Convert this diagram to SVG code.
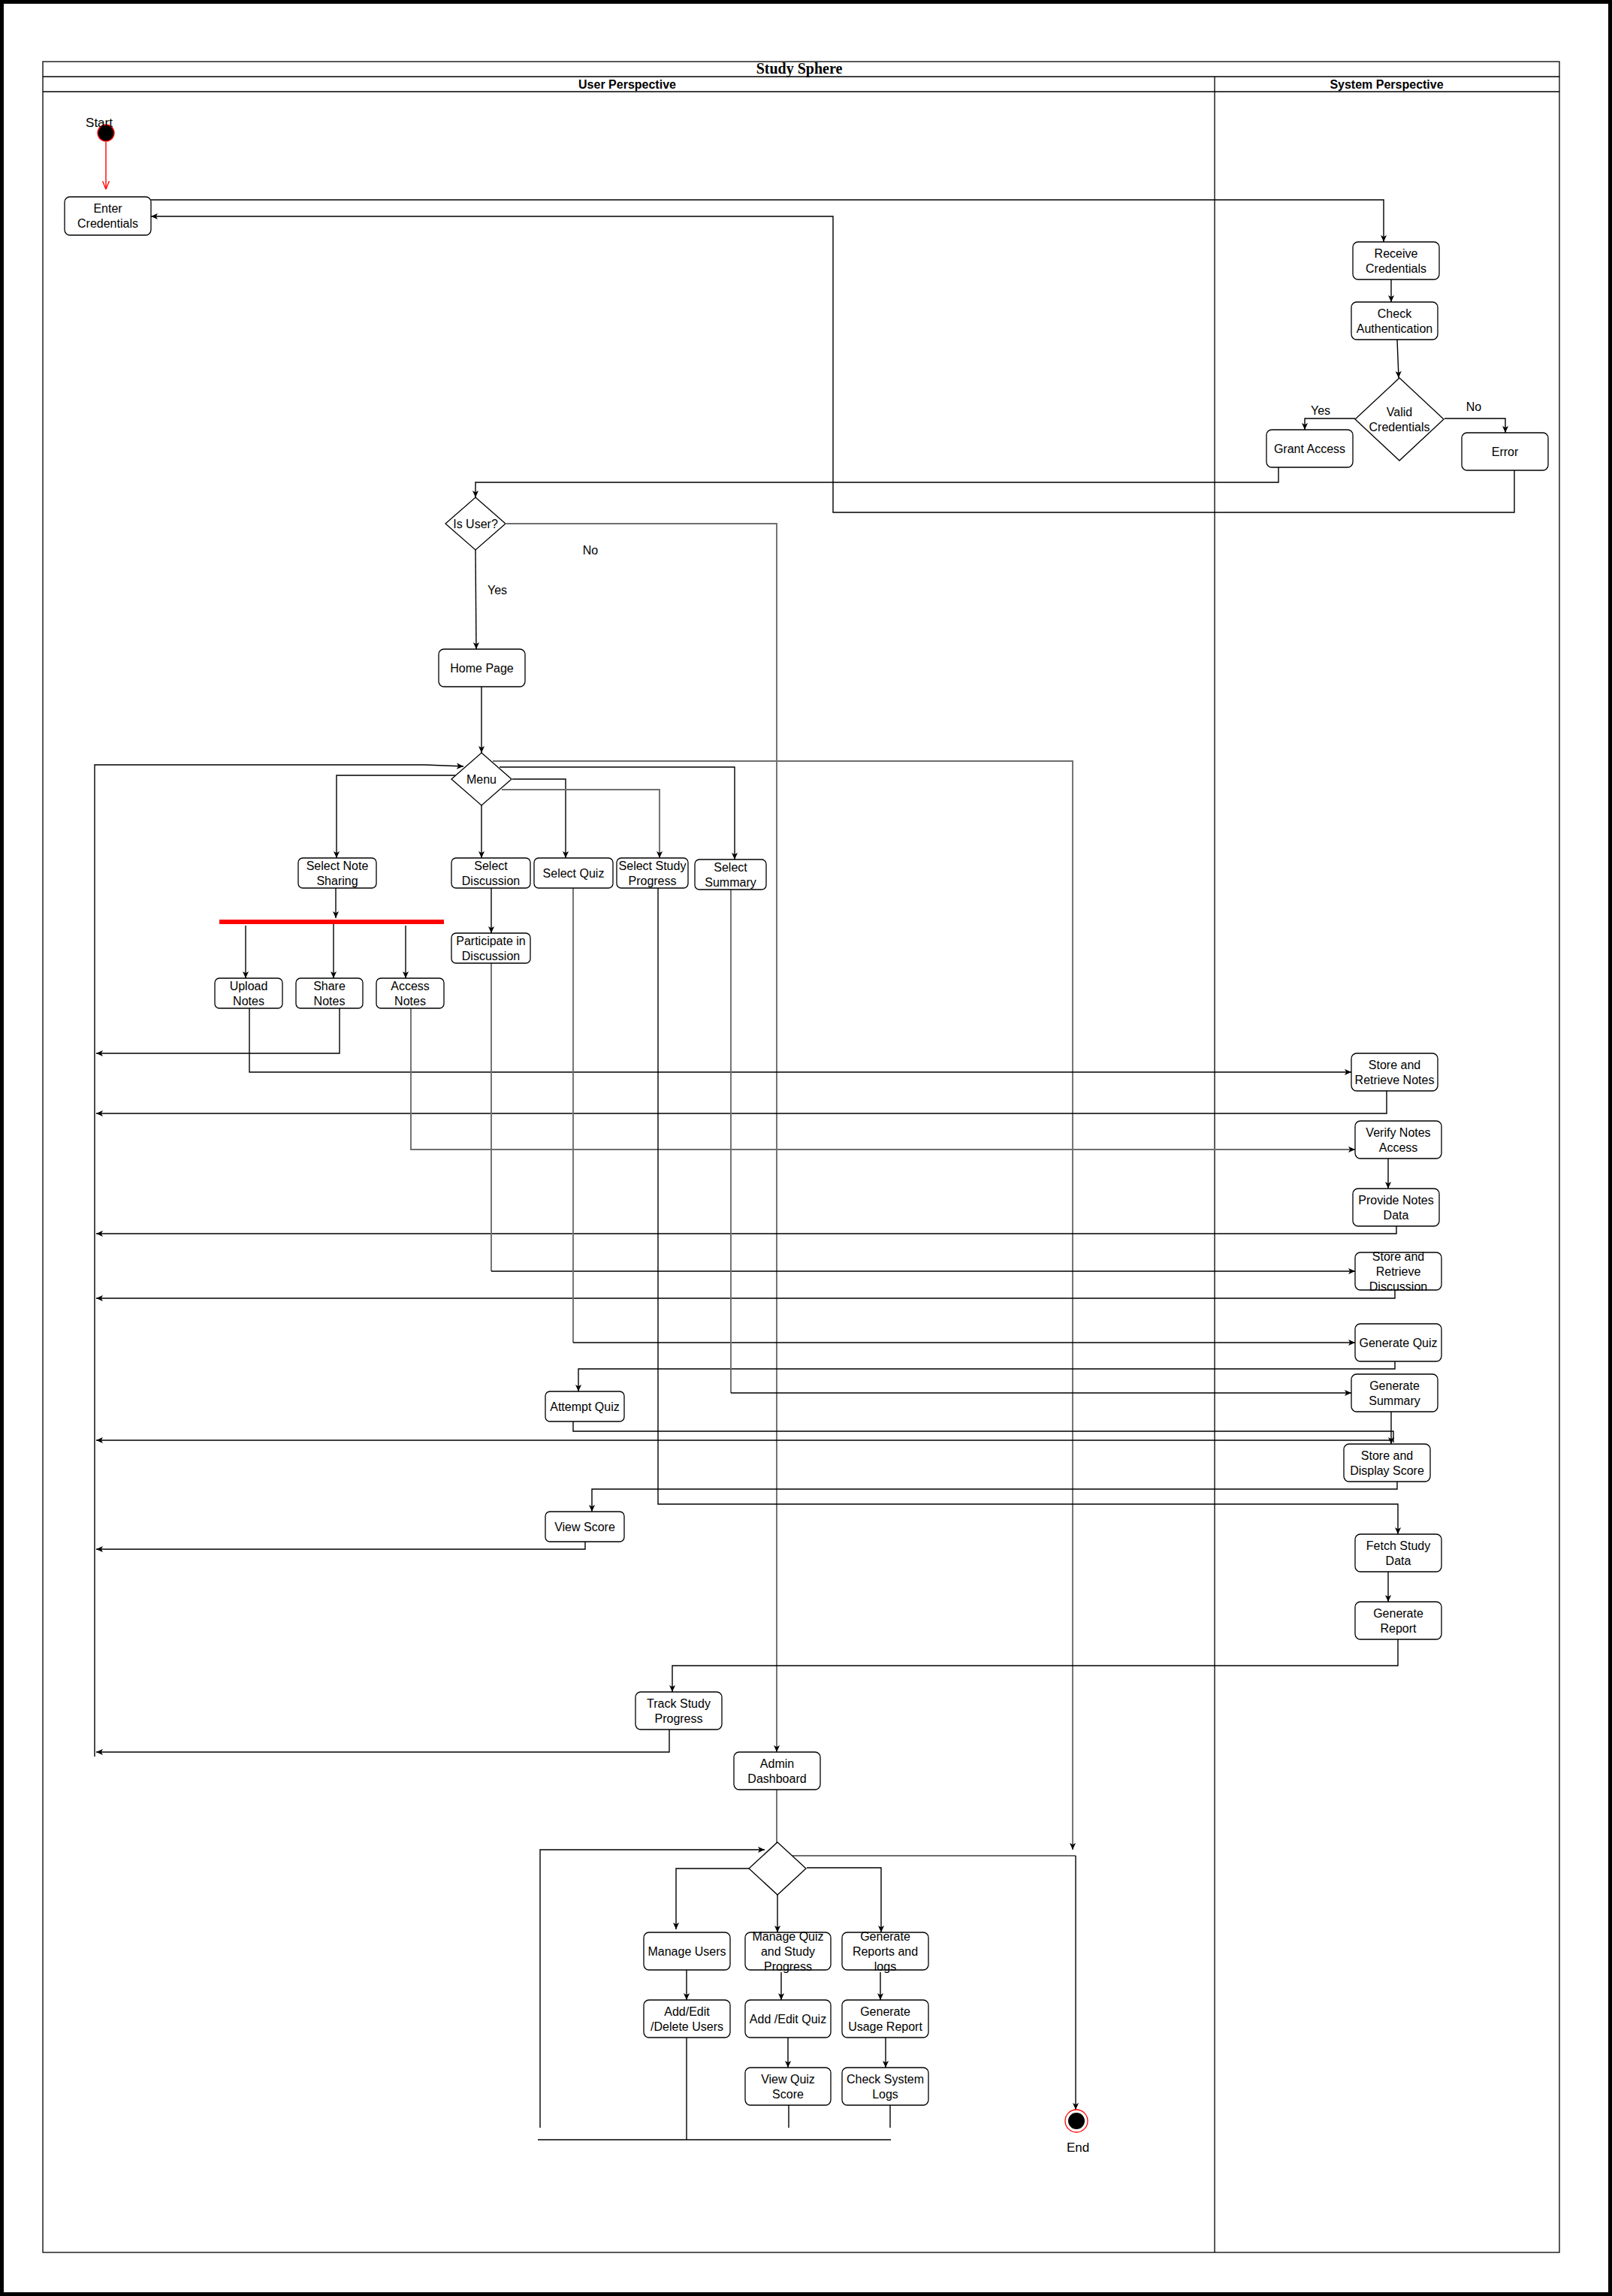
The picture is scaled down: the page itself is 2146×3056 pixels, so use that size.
<svg xmlns="http://www.w3.org/2000/svg" width="2146" height="3056" viewBox="0 0 2146 3056">
<style>
.bg{fill:#fff}
.border{fill:none;stroke:#000;stroke-width:5}
.pool{fill:none;stroke:#000;stroke-width:1.3}
.box{fill:#fff;stroke:#000;stroke-width:1.3}
.t{font-family:"Liberation Sans",Arial,sans-serif;font-size:16px;fill:#000;text-anchor:middle}
.h{font-family:"Liberation Sans",Arial,sans-serif;font-size:16px;font-weight:bold;fill:#000;text-anchor:middle}
.title{font-family:"Liberation Serif","Times New Roman",serif;font-size:20px;font-weight:bold;fill:#000;text-anchor:middle}
.lbl{font-family:"Liberation Sans",Arial,sans-serif;font-size:17px;fill:#000;text-anchor:middle}
.c{fill:none;stroke:#000;stroke-width:1.4}
.g{fill:none;stroke:#6e6e6e;stroke-width:1.9}
.ca{marker-end:url(#arr)}
</style>
<defs>
<marker id="arr" viewBox="0 0 10 10" refX="10" refY="5" markerWidth="9" markerHeight="9" markerUnits="userSpaceOnUse" orient="auto">
<path d="M0,0.5 L10,5 L0,9.5 L2.5,5 z" fill="#000"/>
</marker>
<marker id="arrRed" viewBox="0 0 10 10" refX="10" refY="5" markerWidth="11" markerHeight="11" markerUnits="userSpaceOnUse" orient="auto">
<path d="M0,1 L10,5 L0,9" fill="none" stroke="#ff0000" stroke-width="1.2"/>
</marker>
</defs>
<rect class="bg" x="0" y="0" width="2146" height="3056"/>
<rect class="border" x="2.5" y="2.5" width="2141" height="3051"/>

<g id="pool">
<rect class="pool" x="57" y="82" width="2019" height="2916"/>
<line class="pool" x1="57" y1="102" x2="2076" y2="102"/>
<line class="pool" x1="57" y1="122" x2="2076" y2="122"/>
<line class="pool" x1="1617" y1="102" x2="1617" y2="2998"/>
<text class="title" x="1064" y="98">Study Sphere</text>
<text class="h" x="835" y="118">User Perspective</text>
<text class="h" x="1846" y="118">System Perspective</text>
</g>

<g id="connectors">
<polyline class="c" points="141,189 141,252" style="stroke:#ff0000;marker-end:url(#arrRed)"/>
<polyline class="c ca" points="201,266 1842,266 1842,322"/>
<polyline class="c ca" points="2016,626 2016,682 1109,682 1109,288 201,288"/>
<polyline class="c ca" points="1852,372 1852,402"/>
<polyline class="c ca" points="1860,452 1862,503"/>
<polyline class="c ca" points="1804,557 1737,557 1737,572"/>
<polyline class="c ca" points="1923,557 2004,557 2004,576"/>
<polyline class="c ca" points="1702,622 1702,642 633,642 633,662"/>
<polyline class="g ca" points="674,697 1034,697 1034,2332"/>
<polyline class="c ca" points="633,732 634,864"/>
<polyline class="c ca" points="641,914 641,1002"/>
<polyline class="c ca" points="606,1032 448,1032 448,1142"/>
<polyline class="c ca" points="641,1072 641,1142"/>
<polyline class="c ca" points="682,1037 753,1037 753,1142"/>
<polyline class="g ca" points="668,1051 878,1051 878,1142"/>
<polyline class="c ca" points="665,1021 978,1021 978,1144"/>
<polyline class="g ca" points="656,1013 1428,1013 1428,2462"/>
<polyline class="c ca" points="126,2338 126,1018 566,1018 617,1020"/>
<polyline class="c ca" points="447,1182 447,1222"/>
<polyline class="c ca" points="327,1232 327,1302"/>
<polyline class="c ca" points="444,1230 444,1302"/>
<polyline class="c ca" points="540,1232 540,1302"/>
<polyline class="c ca" points="654,1182 654,1242"/>
<polyline class="c ca" points="452,1342 452,1402 128,1402"/>
<polyline class="c ca" points="332,1342 332,1427 1799,1427"/>
<polyline class="c ca" points="1846,1452 1846,1482 128,1482"/>
<polyline class="g ca" points="547,1342 547,1530 1804,1530"/>
<polyline class="c ca" points="1848,1542 1848,1582"/>
<polyline class="c ca" points="1859,1632 1859,1642 128,1642"/>
<polyline class="g" points="654,1282 654,1692"/>
<polyline class="c ca" points="654,1692 1804,1692"/>
<polyline class="c ca" points="1857,1717 1857,1728 128,1728"/>
<polyline class="g" points="763,1182 763,1787"/>
<polyline class="c ca" points="763,1787 1804,1787"/>
<polyline class="c ca" points="1857,1812 1857,1822 770,1822 770,1852"/>
<polyline class="g" points="973,1184 973,1854"/>
<polyline class="c ca" points="973,1854 1799,1854"/>
<polyline class="c ca" points="1852,1879 1852,1922"/>
<polyline class="c" points="763,1892 763,1905 1855,1905 1855,1920"/>
<polyline class="c ca" points="1852,1917 128,1917"/>
<polyline class="c ca" points="1860,1972 1860,1982 788,1982 788,2012"/>
<polyline class="c ca" points="779,2052 779,2062 128,2062"/>
<polyline class="c ca" points="876,1182 876,2002 1861,2002 1861,2042"/>
<polyline class="c ca" points="1848,2092 1848,2132"/>
<polyline class="c ca" points="1861,2182 1861,2217 895,2217 895,2252"/>
<polyline class="c ca" points="891,2302 891,2332 128,2332"/>
<polyline class="g ca" points="1034,2382 1034,2467"/>
<polyline class="c ca" points="719,2832 719,2462 1018,2462"/>
<polyline class="c ca" points="997,2487 900,2487 900,2568"/>
<polyline class="c ca" points="1035,2522 1035,2572"/>
<polyline class="c ca" points="1074,2486 1173,2486 1173,2572"/>
<polyline class="g" points="1054,2470 1432,2470"/>
<polyline class="c ca" points="1432,2470 1432,2808"/>
<polyline class="c ca" points="914,2622 914,2662"/>
<polyline class="c ca" points="1040,2625 1040,2662"/>
<polyline class="c ca" points="1049,2712 1049,2752"/>
<polyline class="c ca" points="1172,2625 1172,2662"/>
<polyline class="c ca" points="1179,2712 1179,2752"/>
<polyline class="c" points="914,2712 914,2848"/>
<polyline class="c" points="1050,2802 1050,2832"/>
<polyline class="c" points="1185,2802 1185,2832"/>
<polyline class="c" points="716,2848 1186,2848"/>
</g>

<g id="start"><circle cx="141" cy="177" r="11" fill="#000" stroke="#ff0000" stroke-width="1.3"/><text class="lbl" x="132" y="169">Start</text></g>
<g id="end"><circle cx="1433" cy="2823" r="15" fill="#fff" stroke="#ff0000" stroke-width="1.3"/><circle cx="1433" cy="2823" r="11" fill="#000"/><text class="lbl" x="1435" y="2864">End</text></g>

<g id="enterCredentials"><rect class="box" x="86" y="262" width="115" height="51" rx="7"/><text class="t" x="143.5" y="283">Enter</text><text class="t" x="143.5" y="303">Credentials</text></g>
<g id="receiveCredentials"><rect class="box" x="1801" y="322" width="115" height="50" rx="7"/><text class="t" x="1858.5" y="343">Receive</text><text class="t" x="1858.5" y="363">Credentials</text></g>
<g id="checkAuthentication"><rect class="box" x="1799" y="402" width="115" height="50" rx="7"/><text class="t" x="1856.5" y="423">Check</text><text class="t" x="1856.5" y="443">Authentication</text></g>
<g id="validCredentials"><polygon class="box" points="1863,503 1922,558 1863,613 1804,558"/><text class="t" x="1863" y="554">Valid</text><text class="t" x="1863" y="574">Credentials</text></g>
<g id="grantAccess"><rect class="box" x="1686" y="572" width="115" height="50" rx="7"/><text class="t" x="1743.5" y="603">Grant Access</text></g>
<g id="error"><rect class="box" x="1946" y="576" width="115" height="50" rx="7"/><text class="t" x="2003.5" y="607">Error</text></g>
<g id="labels">
<text class="t" x="1758" y="552">Yes</text>
<text class="t" x="1962" y="547">No</text>
<text class="t" x="786" y="738">No</text>
<text class="t" x="662" y="791">Yes</text>
</g>
<g id="isUser"><polygon class="box" points="633,662 673,697 633,732 593,697"/><text class="t" x="633" y="703">Is User?</text></g>
<g id="homePage"><rect class="box" x="584" y="864" width="115" height="50" rx="7"/><text class="t" x="641.5" y="895">Home Page</text></g>
<g id="menu"><polygon class="box" points="641,1002 681,1037 641,1072 601,1037"/><text class="t" x="641" y="1043">Menu</text></g>

<g id="selectNoteSharing"><rect class="box" x="397" y="1142" width="104" height="40" rx="6"/><text class="t" x="449" y="1158">Select Note</text><text class="t" x="449" y="1178">Sharing</text></g>
<g id="selectDiscussion"><rect class="box" x="601" y="1142" width="105" height="40" rx="6"/><text class="t" x="653.5" y="1158">Select</text><text class="t" x="653.5" y="1178">Discussion</text></g>
<g id="selectQuiz"><rect class="box" x="711" y="1142" width="105" height="40" rx="6"/><text class="t" x="763.5" y="1168">Select Quiz</text></g>
<g id="selectStudyProgress"><rect class="box" x="821" y="1142" width="95" height="40" rx="6"/><text class="t" x="868.5" y="1158">Select Study</text><text class="t" x="868.5" y="1178">Progress</text></g>
<g id="selectSummary"><rect class="box" x="925" y="1144" width="95" height="40" rx="6"/><text class="t" x="972.5" y="1160">Select</text><text class="t" x="972.5" y="1180">Summary</text></g>
<g id="forkBar"><rect x="292" y="1224" width="299" height="6" fill="#ff0000"/></g>
<g id="uploadNotes"><rect class="box" x="286" y="1302" width="90" height="40" rx="6"/><text class="t" x="331" y="1318">Upload</text><text class="t" x="331" y="1338">Notes</text></g>
<g id="shareNotes"><rect class="box" x="394" y="1302" width="89" height="40" rx="6"/><text class="t" x="438.5" y="1318">Share</text><text class="t" x="438.5" y="1338">Notes</text></g>
<g id="accessNotes"><rect class="box" x="501" y="1302" width="90" height="40" rx="6"/><text class="t" x="546" y="1318">Access</text><text class="t" x="546" y="1338">Notes</text></g>
<g id="participateDiscussion"><rect class="box" x="601" y="1242" width="105" height="40" rx="6"/><text class="t" x="653.5" y="1258">Participate in</text><text class="t" x="653.5" y="1278">Discussion</text></g>

<g id="storeRetrieveNotes"><rect class="box" x="1799" y="1402" width="115" height="50" rx="7"/><text class="t" x="1856.5" y="1423">Store and</text><text class="t" x="1856.5" y="1443">Retrieve Notes</text></g>
<g id="verifyNotesAccess"><rect class="box" x="1804" y="1492" width="115" height="50" rx="7"/><text class="t" x="1861.5" y="1513">Verify Notes</text><text class="t" x="1861.5" y="1533">Access</text></g>
<g id="provideNotesData"><rect class="box" x="1801" y="1582" width="115" height="50" rx="7"/><text class="t" x="1858.5" y="1603">Provide Notes</text><text class="t" x="1858.5" y="1623">Data</text></g>
<g id="storeRetrieveDiscussion"><rect class="box" x="1804" y="1667" width="115" height="50" rx="7"/><text class="t" x="1861.5" y="1678">Store and</text><text class="t" x="1861.5" y="1698">Retrieve</text><text class="t" x="1861.5" y="1718">Discussion</text></g>
<g id="generateQuiz"><rect class="box" x="1804" y="1762" width="115" height="50" rx="7"/><text class="t" x="1861.5" y="1793">Generate Quiz</text></g>
<g id="generateSummary"><rect class="box" x="1799" y="1829" width="115" height="50" rx="7"/><text class="t" x="1856.5" y="1850">Generate</text><text class="t" x="1856.5" y="1870">Summary</text></g>
<g id="storeDisplayScore"><rect class="box" x="1789" y="1922" width="115" height="50" rx="7"/><text class="t" x="1846.5" y="1943">Store and</text><text class="t" x="1846.5" y="1963">Display Score</text></g>
<g id="attemptQuiz"><rect class="box" x="726" y="1852" width="105" height="40" rx="6"/><text class="t" x="778.5" y="1878">Attempt Quiz</text></g>
<g id="viewScore"><rect class="box" x="726" y="2012" width="105" height="40" rx="6"/><text class="t" x="778.5" y="2038">View Score</text></g>
<g id="fetchStudyData"><rect class="box" x="1804" y="2042" width="115" height="50" rx="7"/><text class="t" x="1861.5" y="2063">Fetch Study</text><text class="t" x="1861.5" y="2083">Data</text></g>
<g id="generateReport"><rect class="box" x="1804" y="2132" width="115" height="50" rx="7"/><text class="t" x="1861.5" y="2153">Generate</text><text class="t" x="1861.5" y="2173">Report</text></g>
<g id="trackStudyProgress"><rect class="box" x="846" y="2252" width="115" height="50" rx="7"/><text class="t" x="903.5" y="2273">Track Study</text><text class="t" x="903.5" y="2293">Progress</text></g>
<g id="adminDashboard"><rect class="box" x="977" y="2332" width="115" height="50" rx="7"/><text class="t" x="1034.5" y="2353">Admin</text><text class="t" x="1034.5" y="2373">Dashboard</text></g>
<g id="adminDecision"><polygon class="box" points="1035,2452 1073,2487 1035,2522 997,2487"/></g>
<g id="manageUsers"><rect class="box" x="857" y="2572" width="115" height="50" rx="7"/><text class="t" x="914.5" y="2603">Manage Users</text></g>
<g id="manageQuiz"><rect class="box" x="992" y="2572" width="114" height="50" rx="7"/><text class="t" x="1049" y="2583">Manage Quiz</text><text class="t" x="1049" y="2603">and Study</text><text class="t" x="1049" y="2623">Progress</text></g>
<g id="generateReportsLogs"><rect class="box" x="1121" y="2572" width="115" height="50" rx="7"/><text class="t" x="1178.5" y="2583">Generate</text><text class="t" x="1178.5" y="2603">Reports and</text><text class="t" x="1178.5" y="2623">logs</text></g>
<g id="addEditDeleteUsers"><rect class="box" x="857" y="2662" width="115" height="50" rx="7"/><text class="t" x="914.5" y="2683">Add/Edit</text><text class="t" x="914.5" y="2703">/Delete Users</text></g>
<g id="addEditQuiz"><rect class="box" x="992" y="2662" width="114" height="50" rx="7"/><text class="t" x="1049" y="2693">Add /Edit Quiz</text></g>
<g id="generateUsageReport"><rect class="box" x="1121" y="2662" width="115" height="50" rx="7"/><text class="t" x="1178.5" y="2683">Generate</text><text class="t" x="1178.5" y="2703">Usage Report</text></g>
<g id="viewQuizScore"><rect class="box" x="992" y="2752" width="114" height="50" rx="7"/><text class="t" x="1049" y="2773">View Quiz</text><text class="t" x="1049" y="2793">Score</text></g>
<g id="checkSystemLogs"><rect class="box" x="1121" y="2752" width="115" height="50" rx="7"/><text class="t" x="1178.5" y="2773">Check System</text><text class="t" x="1178.5" y="2793">Logs</text></g>
</svg>
